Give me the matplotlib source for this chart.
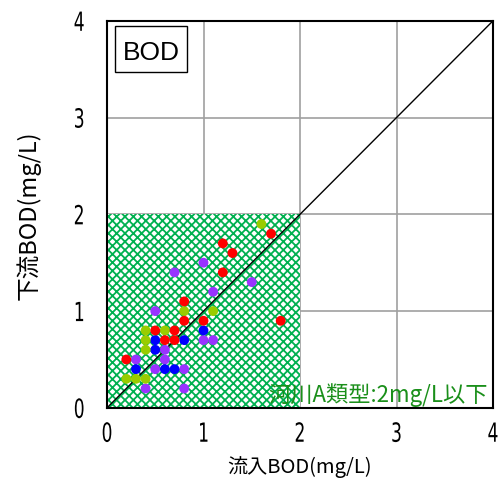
import matplotlib
matplotlib.use('Agg')
import matplotlib.pyplot as plt
from matplotlib.patches import Rectangle
from matplotlib.patheffects import AbstractPathEffect
from matplotlib.transforms import Affine2D, IdentityTransform

plt.rcParams['font.family'] = ['Noto Sans CJK JP', 'DejaVu Sans']
plt.rcParams['hatch.linewidth'] = 1.3

# inflow / downstream BOD (mg/L), one group per colour
red_x = [1.7, 1.2, 1.3, 1.2, 0.8, 0.8, 1.0, 1.8, 0.5, 0.7, 0.6, 0.7, 0.2]
red_y = [1.8, 1.7, 1.6, 1.4, 1.1, 0.9, 0.9, 0.9, 0.8, 0.8, 0.7, 0.7, 0.5]
green_x = [1.6, 0.8, 1.1, 0.4, 0.6, 0.4, 0.4, 0.2, 0.3, 0.4]
green_y = [1.9, 1.0, 1.0, 0.8, 0.8, 0.7, 0.6, 0.3, 0.3, 0.3]
purple_x = [1.0, 0.7, 1.5, 1.1, 0.5, 0.6, 0.6, 0.3, 1.0, 1.1, 0.5, 0.8, 0.4, 0.8]
purple_y = [1.5, 1.4, 1.3, 1.2, 1.0, 0.6, 0.5, 0.5, 0.7, 0.7, 0.4, 0.4, 0.2, 0.2]
blue_x = [1.0, 0.5, 0.8, 0.5, 0.3, 0.6, 0.7]
blue_y = [0.8, 0.7, 0.7, 0.6, 0.4, 0.4, 0.4]

ticks = [0, 1, 2, 3, 4]
standard = 2.0


class Narrow(AbstractPathEffect):
    # squeeze text horizontally, like the narrow gothic digits
    def __init__(self, sx=0.72):
        super().__init__()
        self.sx = sx

    def draw_path(self, renderer, gc, tpath, affine, rgbFace=None):
        p = affine.transform_path(tpath)
        ext = p.get_extents()
        cx = (ext.x0 + ext.x1) / 2
        t = Affine2D().translate(-cx, 0).scale(self.sx, 1).translate(cx, 0)
        renderer.draw_path(gc, t.transform_path(p), IdentityTransform(), rgbFace)


fig = plt.figure(figsize=(5, 4.85), dpi=100)
ax = fig.add_axes([0.214, 0.157, 0.772, 0.798])

ax.add_patch(Rectangle((0, 0), standard, standard, facecolor='white',
                       edgecolor='#00b050', hatch='xxxx', linewidth=0, zorder=1))
ax.plot([0, 4], [0, 4], color='black', linewidth=1, zorder=2)

for xs, ys, c in [(purple_x, purple_y, '#9933ff'), (blue_x, blue_y, '#0000ff'),
                  (green_x, green_y, '#99cc00'), (red_x, red_y, '#ff0000')]:
    ax.scatter(xs, ys, s=50, color=c, edgecolors='none', zorder=3)

ax.set_xlim(0, 4)
ax.set_ylim(0, 4)
ax.set_xticks(ticks)
ax.set_yticks(ticks)
ax.grid(True, color='#a0a0a0', linewidth=1.2, zorder=0)
ax.set_axisbelow(True)
ax.tick_params(length=0, labelsize=19)
ax.tick_params(axis='x', pad=10)
ax.tick_params(axis='y', pad=14)
for lab in ax.get_xticklabels() + ax.get_yticklabels():
    lab.set_family('DejaVu Sans')
    lab.set_path_effects([Narrow(0.65)])
for s in ax.spines.values():
    s.set_linewidth(1.5)

ax.set_xlabel('流入BOD(mg/L)', fontsize=14.5, labelpad=5)
ax.set_ylabel('下流BOD(mg/L)', fontsize=17, labelpad=22)

# label box in the upper left corner
ax.add_patch(Rectangle((0.021, 0.868), 0.186, 0.119, transform=ax.transAxes,
                       facecolor='white', edgecolor='black', linewidth=1, zorder=5))
ax.text(0.114, 0.92, 'BOD', fontsize=19, family=['Liberation Sans', 'DejaVu Sans'],
        va='center', ha='center', transform=ax.transAxes, zorder=6)
ax.text(3.95, 0.02, '河川A類型:2mg/L以下', fontsize=16, color='#1a8f1a',
        ha='right', va='bottom', zorder=4)

fig.savefig('out.png', dpi=100)
